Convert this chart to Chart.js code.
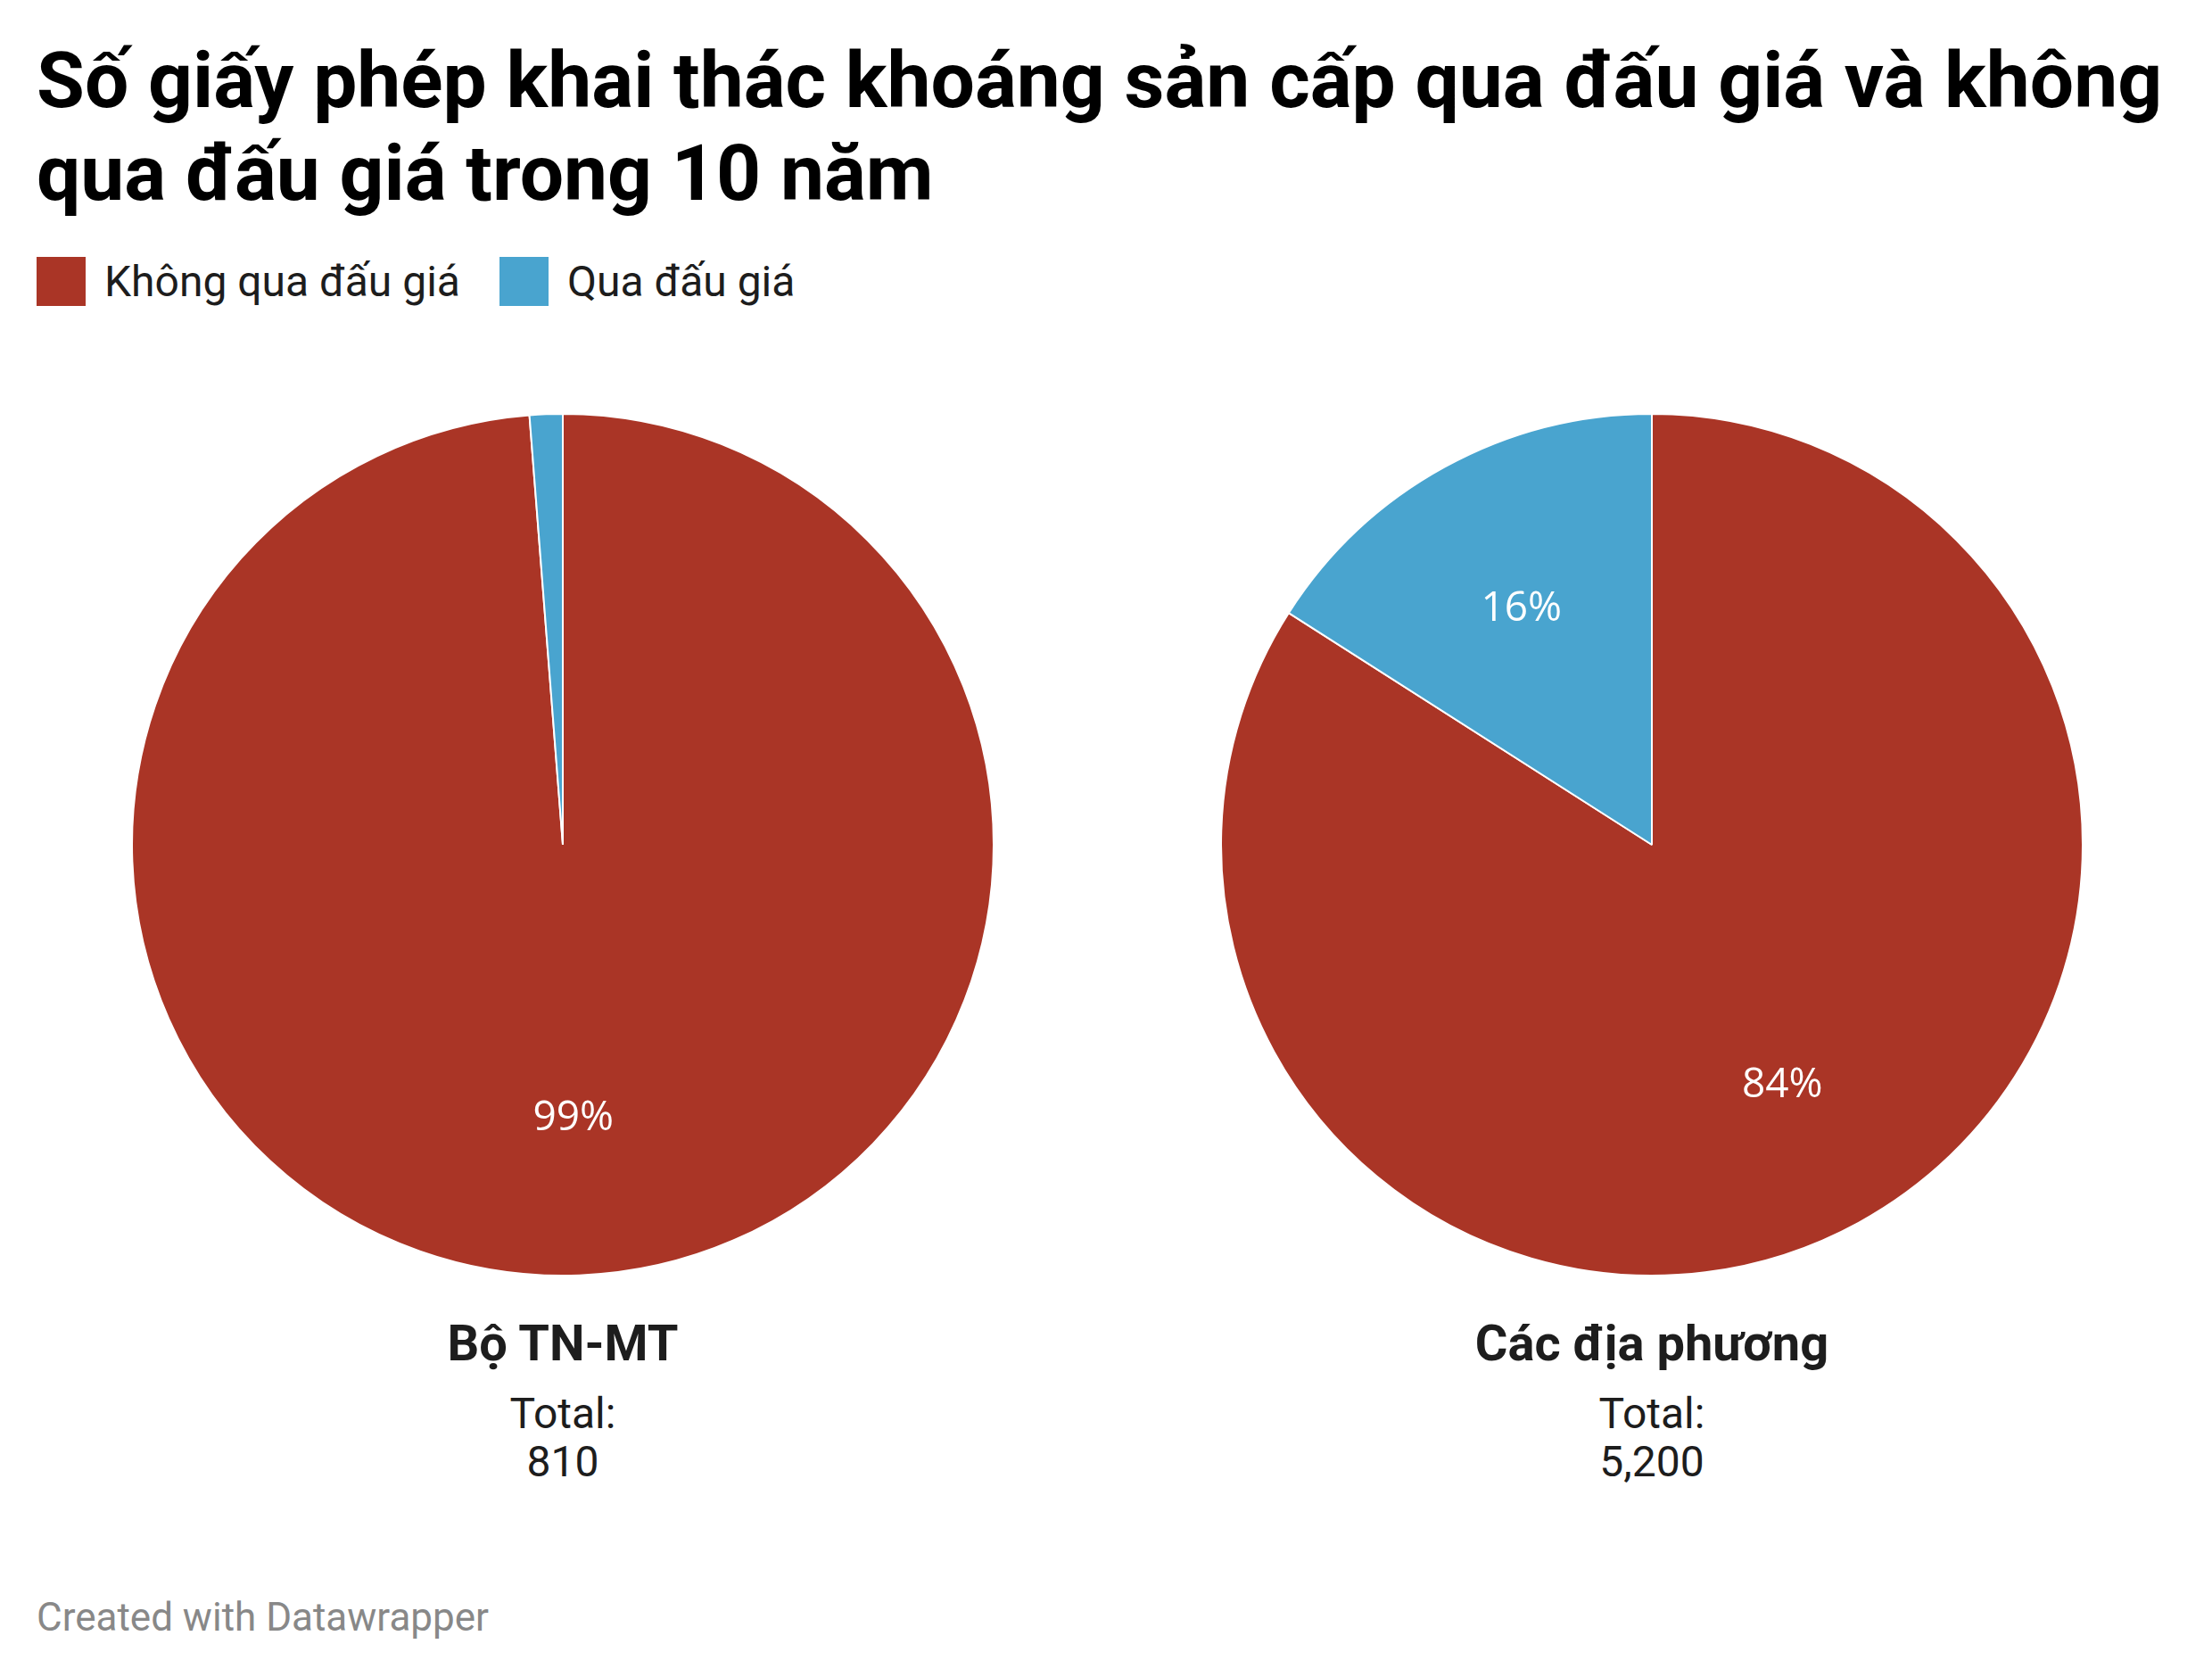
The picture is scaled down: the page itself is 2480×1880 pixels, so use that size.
<!DOCTYPE html>
<html>
<head>
<meta charset="utf-8">
<script src="https://cdn.jsdelivr.net/npm/chart.js@4/dist/chart.umd.min.js"></script>
<style>
  body { margin: 0; background: #fff; width: 2480px; height: 1880px; position: relative; overflow: hidden; font-family: Roboto, sans-serif; }
  .abs { position: absolute; white-space: nowrap; }
  #title { left: 41px; top: 38px; font-size: 87.5px; line-height: 104px; font-weight: 700; color: #000; }
  .leg-box { position: absolute; width: 55px; height: 55px; top: 288px; }
  .leg-txt { position: absolute; top: 292px; font-size: 48px; line-height: 48px; color: #1d1d1d; }
  .pie-name { font-size: 56px; line-height: 58px; font-weight: 700; color: #1d1d1d; text-align: center; width: 900px; top: 1477px; }
  .pie-total { font-size: 48px; line-height: 54px; color: #1d1d1d; text-align: center; width: 900px; top: 1558px; }
  #footer { left: 41px; top: 1791px; font-size: 44px; line-height: 44px; color: #888; }
  canvas { position: absolute; }
</style>
</head>
<body>
<div id="title" class="abs">Số giấy phép khai thác khoáng sản cấp qua đấu giá và không<br>qua đấu giá trong 10 năm</div>
<div id="legend"></div>
<canvas id="pie1" width="968" height="968" style="left:147px; top:463px;"></canvas>
<canvas id="pie2" width="968" height="968" style="left:1368px; top:463px;"></canvas>
<div id="footer" class="abs">Created with Datawrapper</div>

<script>
var categories = ['Không qua đấu giá', 'Qua đấu giá'];
var colors = ['#aa3526', '#49a4cf'];
var groups = ['Bộ TN-MT', 'Các địa phương'];
var boValues = [800, 10];
var diaPhuongValues = [4370, 830];

// legend
var legend = document.getElementById('legend');
var legX = [41, 560];
categories.forEach(function (c, i) {
  var box = document.createElement('div');
  box.className = 'leg-box';
  box.style.left = legX[i] + 'px';
  box.style.background = colors[i];
  legend.appendChild(box);
  var t = document.createElement('div');
  t.className = 'leg-txt abs';
  t.style.left = (legX[i] + 76) + 'px';
  t.textContent = c;
  legend.appendChild(t);
});

// percent labels inside slices
var pctLabels = {
  id: 'pctLabels',
  afterDatasetsDraw: function (chart) {
    var ctx = chart.ctx;
    var data = chart.data.datasets[0].data;
    var total = data.reduce(function (a, b) { return a + b; }, 0);
    chart.getDatasetMeta(0).data.forEach(function (arc, i) {
      var pct = Math.round(data[i] / total * 100);
      if (pct < 5) return;
      var mid = (arc.startAngle + arc.endAngle) / 2;
      var d = arc.outerRadius * 0.63;
      var x = arc.x + Math.cos(mid) * d;
      var y = arc.y + Math.sin(mid) * d;
      ctx.save();
      ctx.fillStyle = '#fff';
      ctx.font = '46px "Open Sans"';
      ctx.textAlign = 'center';
      ctx.textBaseline = 'alphabetic';
      ctx.fillText(pct + '%', x, y + 16);
      ctx.restore();
    });
  }
};

function makePie(id, values, name, cx) {
  new Chart(document.getElementById(id), {
    type: 'pie',
    data: {
      labels: categories,
      datasets: [{
        data: values,
        backgroundColor: colors,
        borderColor: '#fff',
        borderWidth: 2
      }]
    },
    options: {
      responsive: false,
      animation: false,
      plugins: { legend: { display: false }, tooltip: { enabled: false } }
    },
    plugins: [pctLabels]
  });
  var total = values.reduce(function (a, b) { return a + b; }, 0);
  var n = document.createElement('div');
  n.className = 'abs pie-name';
  n.style.left = (cx - 450) + 'px';
  n.textContent = name;
  document.body.appendChild(n);
  var t = document.createElement('div');
  t.className = 'abs pie-total';
  t.style.left = (cx - 450) + 'px';
  t.innerHTML = 'Total:<br>' + total.toLocaleString('en-US');
  document.body.appendChild(t);
}

makePie('pie1', boValues, groups[0], 631);
makePie('pie2', diaPhuongValues, groups[1], 1852);
</script>
</body>
</html>
